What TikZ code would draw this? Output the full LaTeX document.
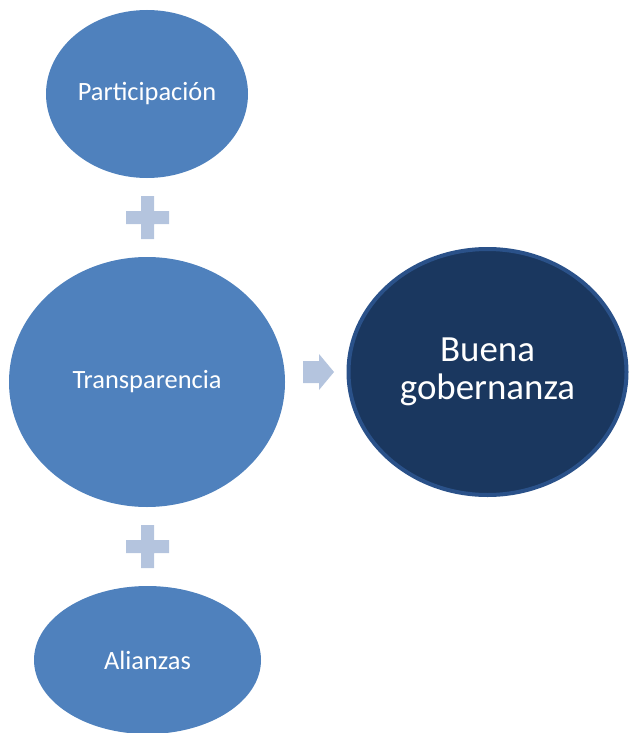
\documentclass[tikz,border=0pt]{standalone}
\usepackage{fontspec}
\setmainfont{Carlito}
\usetikzlibrary{shapes.geometric}
\definecolor{lightblue}{HTML}{4F81BD}
\definecolor{darkfill}{HTML}{1A375F}
\definecolor{darkedge}{HTML}{2A5189}
\definecolor{plusc}{HTML}{B4C4DE}
\tikzset{
  bubble/.style={ellipse, fill=lightblue, inner sep=0pt, text=white,
    font=\fontsize{26.4}{30}\selectfont},
  bigbubble/.style={ellipse, fill=darkfill, draw=darkedge, line width=4pt,
    inner sep=0pt, text=white, align=center,
    font=\fontsize{36.9}{38.5}\selectfont},
  sign/.style={fill=plusc}
}
\begin{document}
\begin{tikzpicture}[x=1pt,y=-1pt]
\useasboundingbox (0,0) rectangle (629,733);
\begin{scope}
\clip (0,0) rectangle (629,733);
\node[bubble, minimum width=202pt, minimum height=168pt] (part) at (147,94) {Participación};
\node[bubble, minimum width=276pt, minimum height=250pt] (trans) at (147,382) {Transparencia};
\node[bubble, minimum width=227pt, minimum height=148pt] (alia) at (147.5,660) {Alianzas};
\node[bigbubble, minimum width=278pt, minimum height=246pt] (buena) at (487.5,372) {Buena\\gobernanza};
\end{scope}
% plus signs
\coordinate (p1) at (147.5,217.5);
\coordinate (p2) at (147.5,546.5);
\foreach \p in {p1,p2}{
  \fill[sign] ([shift={(-6.5,-21.5)}]\p) -- ++(13,0) -- ++(0,15) -- ++(15,0) -- ++(0,13)
    -- ++(-15,0) -- ++(0,15) -- ++(-13,0) -- ++(0,-15) -- ++(-15,0) -- ++(0,-13)
    -- ++(15,0) -- cycle;
}
% arrow
\coordinate (ar) at (303,372);
\fill[sign] ([shift={(0,-11)}]ar) -- ++(16,0) -- ++(0,-7) -- ++(15,18) -- ++(-15,18)
  -- ++(0,-7) -- ++(-16,0) -- cycle;
\end{tikzpicture}
\end{document}
